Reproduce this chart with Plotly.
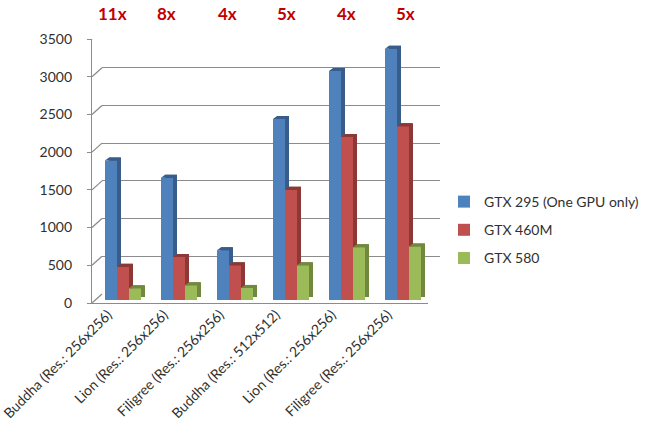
import plotly.graph_objects as go

# Benchmarks (x categories) and frame rates per GPU
categories = ["Buddha (Res.: 256x256)", "Lion (Res.: 256x256)", "Filigree (Res.: 256x256)",
              "Buddha (Res.: 512x512)", "Lion (Res.: 256x256)", "Filigree (Res.: 256x256)"]
gtx295 = [1850, 1620, 660, 2400, 3035, 3330]
gtx460m = [440, 570, 460, 1460, 2160, 2305]
gtx580 = [155, 195, 160, 460, 700, 710]
speedup_labels = ["11x", "8x", "4x", "5x", "4x", "5x"]
y_ticks = [0, 500, 1000, 1500, 2000, 2500, 3000, 3500]

series = [
    ("GTX 295 (One GPU only)", gtx295, "#4F81BD", "#385D8A"),
    ("GTX 460M", gtx460m, "#C0504D", "#8C3836"),
    ("GTX 580", gtx580, "#9BBB59", "#71893F"),
]

# ---- layout geometry (pixels) ----
W, H = 646, 441
ML, MR, MT, MB = 92, 206, 30, 138
PW, PH = W - ML - MR, H - MT - MB          # plot area
FRONT_W, FRONT_H = 336, 264               # front axis extent
DEPTH_X, DEPTH_Y = 10, 9                  # wall depth offset
BAR_DX, BAR_DY = 3, 3                     # bar front plane offset
SIDE_DX, SIDE_DY = 4, 3                   # bar thickness offset
YMAX = 3500
GRID = "#8c8c8c"
FONT = "Lato"
TXT = "#303030"

x_idx = list(range(len(categories)))


def dom_x(shift, width):
    return [shift / PW, (shift + width) / PW]


def dom_y(shift, height):
    return [shift / PH, (shift + height) / PH]


fig = go.Figure()

# back wall (gridlines only)
fig.add_trace(go.Scatter(x=[0], y=[0], xaxis="x", yaxis="y", mode="markers",
                         marker=dict(opacity=0), showlegend=False, hoverinfo="skip"))
# front frame (axes, labels)
fig.add_trace(go.Scatter(x=[0], y=[0], xaxis="x2", yaxis="y2", mode="markers",
                         marker=dict(opacity=0), showlegend=False, hoverinfo="skip"))
# bar depth (side faces), drawn behind the front faces
for name, vals, col, dark in series:
    fig.add_trace(go.Bar(x=x_idx, y=vals, xaxis="x3", yaxis="y3", name=name,
                         marker=dict(color=dark, line=dict(width=0)),
                         showlegend=False, hoverinfo="skip"))
# bar front faces
for name, vals, col, dark in series:
    fig.add_trace(go.Bar(x=x_idx, y=vals, xaxis="x4", yaxis="y4", name=name,
                         legendgroup=name,
                         marker=dict(color=col, line=dict(width=0))))

xr = [-0.5, len(categories) - 0.5]
yr = [0, YMAX]
hidden = dict(visible=False, fixedrange=True)

shapes = []
# side wall: slanted segments from each front tick to the back wall gridline
for v in y_ticks:
    shapes.append(dict(type="line", xref="paper", yref="y2",
                       xsizemode="pixel", xanchor=0, x0=0, x1=DEPTH_X,
                       ysizemode="pixel", yanchor=v, y0=0, y1=DEPTH_Y,
                       line=dict(color=GRID, width=1.3)))
# floor right edge
shapes.append(dict(type="line", xref="x2", yref="y2",
                   xsizemode="pixel", xanchor=xr[1], x0=0, x1=DEPTH_X + 2,
                   ysizemode="pixel", yanchor=0, y0=0, y1=DEPTH_Y,
                   line=dict(color=GRID, width=1.3)))
# category boundary tick marks on the floor front edge
for k in range(len(categories) + 1):
    b = k - 0.5
    shapes.append(dict(type="line", xref="x2", yref="y2",
                       x0=b, x1=b,
                       ysizemode="pixel", yanchor=0, y0=0, y1=-5,
                       line=dict(color=GRID, width=1.3)))

# top faces of the bars
bargap = 1 - 36 / 56
bw = (1 - bargap) / 3
bw_px = FRONT_W / len(categories) * bw
for j, (name, vals, col, dark) in enumerate(series):
    for i, v in enumerate(vals):
        left = i - 1.5 * bw + j * bw
        path = (f"M0,0 L{SIDE_DX},{SIDE_DY} L{bw_px + SIDE_DX},{SIDE_DY} "
                f"L{bw_px},0 Z")
        shapes.append(dict(type="path", xref="x4", yref="y4",
                           xsizemode="pixel", xanchor=left,
                           ysizemode="pixel", yanchor=v,
                           path=path, fillcolor=dark, line=dict(width=0),
                           layer="above"))

annotations = []
label_shift = [-8, -10, -5, -2, 2, 5]
for i, lab in enumerate(speedup_labels):
    annotations.append(dict(x=i, xref="x2", y=(H - 14 - MB) / PH, yref="paper",
                            text=f"<b>{lab}</b>", showarrow=False,
                            xshift=label_shift[i],
                            font=dict(family=FONT, size=17, color="#C00000"),
                            xanchor="center", yanchor="middle"))

fig.update_layout(
    width=W, height=H,
    margin=dict(l=ML, r=MR, t=MT, b=MB, autoexpand=False),
    paper_bgcolor="white", plot_bgcolor="rgba(0,0,0,0)",
    barmode="group", bargap=bargap, bargroupgap=0,
    font=dict(family=FONT, size=14, color=TXT),
    showlegend=True,
    legend=dict(x=(444 - ML) / PW, xanchor="left",
                y=(H - MB - 230) / PH, yanchor="middle",
                font=dict(family=FONT, size=14, color=TXT),
                tracegroupgap=7, bgcolor="rgba(0,0,0,0)"),
    xaxis=dict(domain=dom_x(DEPTH_X, FRONT_W + 2), range=xr, anchor="y",
               showgrid=False, showticklabels=False, zeroline=False,
               showline=False, fixedrange=True),
    yaxis=dict(domain=dom_y(DEPTH_Y, FRONT_H), range=yr, anchor="x",
               tickvals=y_ticks, showgrid=True, gridcolor=GRID, gridwidth=1.3,
               showticklabels=False, zeroline=False, showline=False,
               fixedrange=True),
    xaxis2=dict(domain=dom_x(0, FRONT_W), range=xr, anchor="y2",
                tickvals=x_idx, ticktext=categories, tickangle=-45,
                ticks="", showgrid=False, zeroline=False,
                showline=True, linecolor=GRID, linewidth=1.3,
                tickfont=dict(family=FONT, size=14, color=TXT),
                ticklabelshift=-12, ticklabelstandoff=-3,
                ticklabeloverflow="allow", fixedrange=True),
    yaxis2=dict(domain=dom_y(0, FRONT_H), range=yr, anchor="x2",
                tickvals=y_ticks, ticks="outside", ticklen=4,
                tickcolor=GRID, tickwidth=1.3,
                showgrid=False, zeroline=False,
                showline=True, linecolor=GRID, linewidth=1.3,
                tickfont=dict(family=FONT, size=14, color=TXT),
                ticklabelstandoff=12, fixedrange=True),
    xaxis3=dict(domain=dom_x(BAR_DX + SIDE_DX, FRONT_W), range=xr, anchor="y3", **hidden),
    yaxis3=dict(domain=dom_y(BAR_DY + SIDE_DY, FRONT_H), range=yr, anchor="x3", **hidden),
    xaxis4=dict(domain=dom_x(BAR_DX, FRONT_W), range=xr, anchor="y4", **hidden),
    yaxis4=dict(domain=dom_y(BAR_DY, FRONT_H), range=yr, anchor="x4", **hidden),
    shapes=shapes,
    annotations=annotations,
)

fig.write_html("out.html")
